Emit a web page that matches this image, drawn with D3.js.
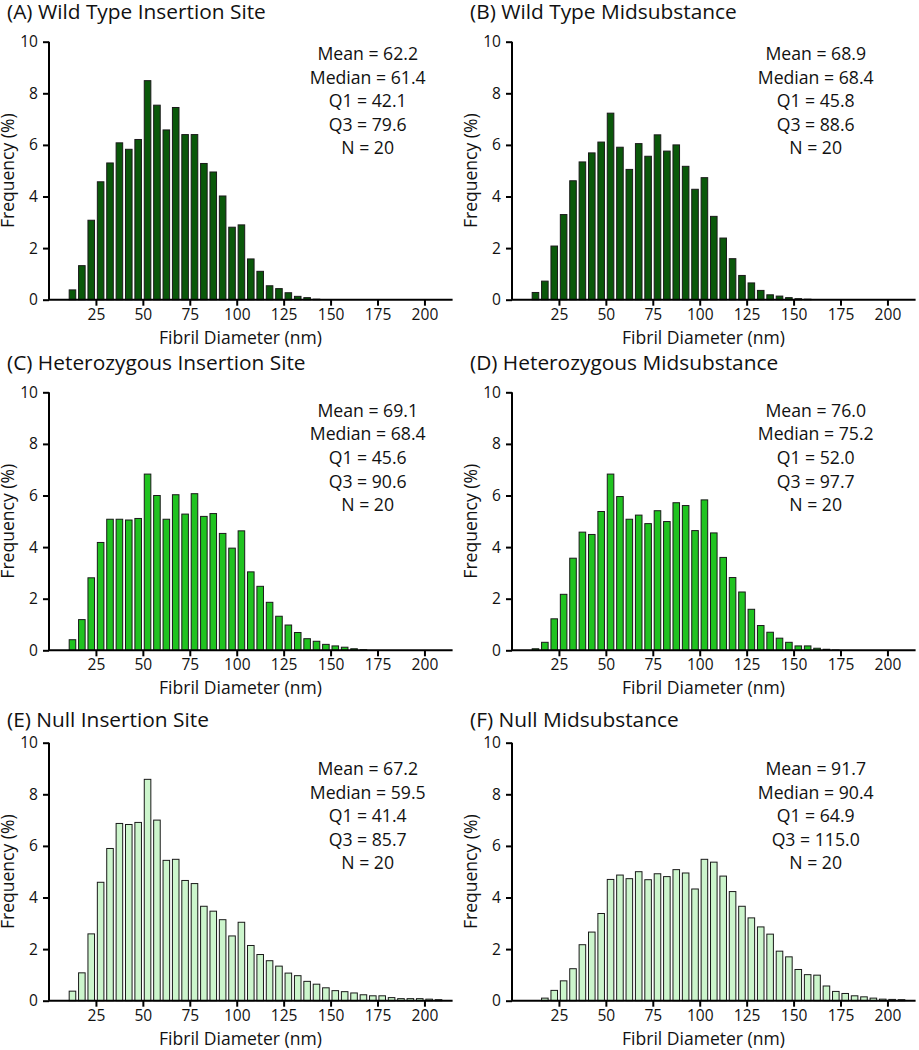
<!DOCTYPE html>
<html>
<head>
<meta charset="utf-8">
<script src="https://cdn.jsdelivr.net/npm/d3@7"></script>
<style>
  body { margin: 0; background: #fff; }
  svg { display: block; font-family: 'Open Sans', sans-serif; }
</style>
</head>
<body>
<div id="graph"></div>
<script>
// left edge of each 5 nm bin
var binEdges = [10, 15, 20, 25, 30, 35, 40, 45, 50, 55, 60, 65, 70, 75, 80, 85, 90, 95, 100, 105,
  110, 115, 120, 125, 130, 135, 140, 145, 150, 155, 160, 165, 170, 175, 180, 185, 190, 195, 200, 205]

var xTicks = [25, 50, 75, 100, 125, 150, 175, 200]
var yTicks = [0, 2, 4, 6, 8, 10]

var titles = [
  '(A) Wild Type Insertion Site', '(B) Wild Type Midsubstance',
  '(C) Heterozygous Insertion Site', '(D) Heterozygous Midsubstance',
  '(E) Null Insertion Site', '(F) Null Midsubstance'
]

var statsA = ['Mean = 62.2', 'Median = 61.4', 'Q1 = 42.1', 'Q3 = 79.6', 'N = 20']
var statsB = ['Mean = 68.9', 'Median = 68.4', 'Q1 = 45.8', 'Q3 = 88.6', 'N = 20']
var statsC = ['Mean = 69.1', 'Median = 68.4', 'Q1 = 45.6', 'Q3 = 90.6', 'N = 20']
var statsD = ['Mean = 76.0', 'Median = 75.2', 'Q1 = 52.0', 'Q3 = 97.7', 'N = 20']
var statsE = ['Mean = 67.2', 'Median = 59.5', 'Q1 = 41.4', 'Q3 = 85.7', 'N = 20']
var statsF = ['Mean = 91.7', 'Median = 90.4', 'Q1 = 64.9', 'Q3 = 115.0', 'N = 20']

// frequency (%) per bin, starting at the 10-15 nm bin
var freqA = [0.38, 1.32, 3.08, 4.57, 5.30, 6.08, 5.83, 6.21, 8.49, 7.54, 6.58, 7.45, 6.40, 6.40, 5.28, 4.95,
  4.02, 2.81, 2.90, 1.58, 1.10, 0.54, 0.43, 0.27, 0.13, 0.08, 0.02]
var freqB = [0.28, 0.72, 2.08, 3.30, 4.61, 5.34, 5.69, 6.11, 7.23, 5.91, 5.05, 6.05, 5.56, 6.39, 5.76, 6.00,
  5.17, 4.28, 4.73, 3.23, 2.39, 1.59, 0.94, 0.65, 0.36, 0.19, 0.14, 0.08, 0.04, 0.02]
var freqC = [0.41, 1.19, 2.81, 4.18, 5.08, 5.08, 5.05, 5.11, 6.83, 6.00, 5.08, 6.03, 5.28, 6.07, 5.19, 5.30,
  4.53, 3.96, 4.63, 3.04, 2.48, 1.86, 1.32, 0.98, 0.69, 0.45, 0.35, 0.23, 0.17, 0.12, 0.06, 0.02]
var freqD = [0.06, 0.31, 1.22, 2.17, 3.57, 4.58, 4.49, 5.38, 6.83, 5.96, 5.08, 5.24, 4.91, 5.41, 4.99, 5.72,
  5.61, 4.64, 5.83, 4.55, 3.60, 2.82, 2.26, 1.59, 0.96, 0.70, 0.47, 0.31, 0.17, 0.17, 0.08, 0.04, 0.01]
var freqE = [0.37, 1.08, 2.59, 4.59, 5.90, 6.87, 6.83, 6.91, 8.58, 7.00, 5.44, 5.48, 4.66, 4.54, 3.66, 3.47,
  3.14, 2.51, 3.04, 2.14, 1.79, 1.55, 1.34, 1.07, 0.97, 0.75, 0.64, 0.50, 0.39, 0.35, 0.30, 0.23, 0.19, 0.19,
  0.12, 0.08, 0.08, 0.08, 0.06, 0.04]
var freqF = [0, 0.10, 0.40, 0.77, 1.24, 2.17, 2.66, 3.38, 4.70, 4.87, 4.73, 5.00, 4.69, 4.92, 4.81, 5.08,
  4.95, 4.33, 5.48, 5.37, 4.83, 4.23, 3.66, 3.21, 2.86, 2.58, 1.92, 1.70, 1.21, 1.01, 0.99, 0.57, 0.36, 0.28,
  0.19, 0.15, 0.10, 0.06, 0.05, 0.04]

var fills = ['#0a580a', '#0a580a', '#20c320', '#20c320', '#ccf5cc', '#ccf5cc']

var panels = [
  {freq: freqA, stats: statsA}, {freq: freqB, stats: statsB},
  {freq: freqC, stats: statsC}, {freq: freqD, stats: statsD},
  {freq: freqE, stats: statsE}, {freq: freqF, stats: statsF}
]

var W = 919, H = 1050
var colX = [49, 512]
var rowTop = [41.7, 392.3, 742.7]
var titleY = [18.5, 370, 726.5]
var statsY = [60, 416.7, 775]
var statsDx = [318.7, 303.7]
var ph = 258, pw = 403.6

var svg = d3.select('#graph').append('svg').attr('width', W).attr('height', H)

// pick font sizes so sample strings come out as wide as in the figure
function fitSize(str, target){
  var t = svg.append('text').attr('font-size', 20).text(str)
  var w = t.node().getComputedTextLength()
  t.remove()
  return 20*target/w
}
var titleSize = fitSize('(A) Wild Type Insertion Site', 259)
var statsSize = fitSize('Median = 61.4', 116)
var labelSize = fitSize('Fibril Diameter (nm)', 163)
var tickSize = fitSize('200', 26.7)

var x = d3.scaleLinear().domain([0, 215]).range([0, pw])
var y = d3.scaleLinear().domain([0, 10]).range([ph, 0])
var binW = x(5) - x(0)
var barW = binW*0.7

panels.forEach((p, i) => {
  var col = i % 2, row = Math.floor(i/2)
  var g = svg.append('g').attr('transform', `translate(${colX[col]},${rowTop[row]})`)

  svg.append('text')
    .attr('x', colX[col] - 42).attr('y', titleY[row])
    .attr('font-size', titleSize).attr('fill', '#111')
    .text(titles[i])

  g.selectAll('rect').data(p.freq).join('rect')
    .attr('x', (d, j) => x(binEdges[j]) + (binW - barW)/2)
    .attr('width', barW)
    .attr('y', d => y(d))
    .attr('height', d => y(0) - y(d))
    .attr('fill', fills[i])
    .attr('stroke', '#1a1a1a')
    .attr('stroke-width', 1)

  var xa = g.append('g').attr('transform', `translate(0,${ph})`)
    .call(d3.axisBottom(x).tickValues(xTicks).tickSize(6).tickPadding(3))
  var ya = g.append('g')
    .call(d3.axisLeft(y).tickValues(yTicks).tickSize(6).tickPadding(5))

  ;[xa, ya].forEach(a => {
    a.select('.domain').attr('stroke', '#000').attr('stroke-width', 2)
      .attr('d', a === xa ? `M0,0H${pw}` : `M0,${ph}V0`)
    a.selectAll('.tick line').attr('stroke', '#000').attr('stroke-width', 2)
    a.selectAll('.tick text').attr('font-size', tickSize).attr('fill', '#111')
      .attr('font-family', "'Open Sans', sans-serif")
  })

  g.append('text')
    .attr('x', x(102)).attr('y', ph + 44)
    .attr('text-anchor', 'middle').attr('font-size', labelSize).attr('fill', '#111')
    .text('Fibril Diameter (nm)')

  g.append('text')
    .attr('transform', `translate(-35,${ph/2}) rotate(-90)`)
    .attr('text-anchor', 'middle').attr('font-size', labelSize).attr('fill', '#111')
    .text('Frequency (%)')

  svg.append('g').selectAll('text').data(p.stats).join('text')
    .attr('x', colX[col] + statsDx[col])
    .attr('y', (d, j) => statsY[row] + j*23.6)
    .attr('text-anchor', 'middle').attr('font-size', statsSize).attr('fill', '#111')
    .text(d => d)
})
</script>
</body>
</html>
